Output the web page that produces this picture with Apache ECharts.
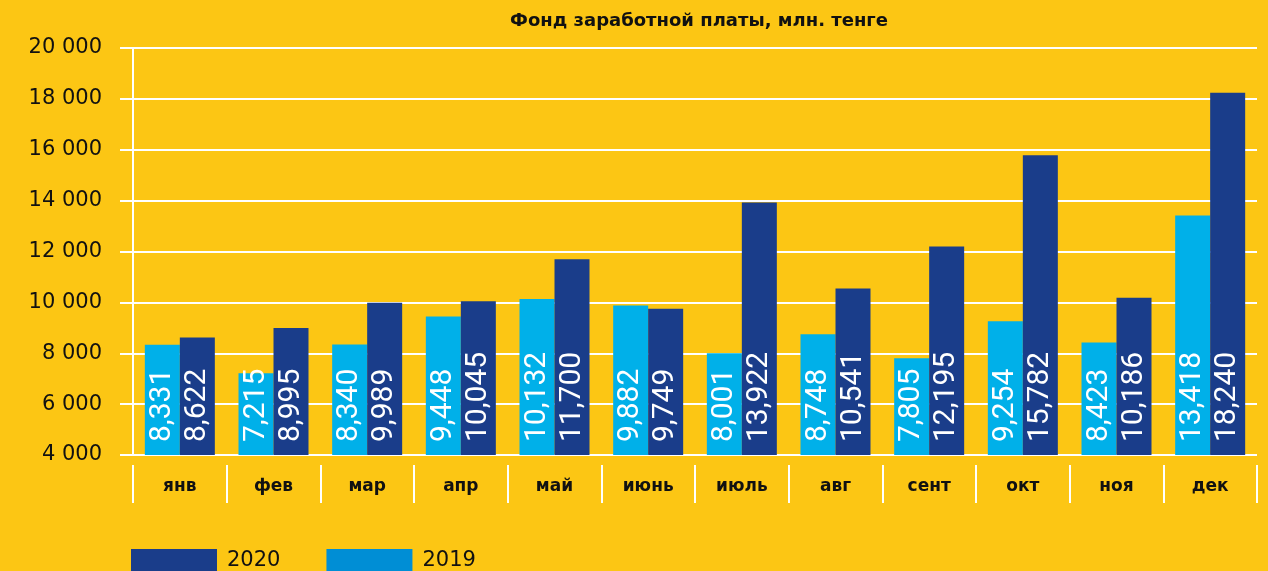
<!DOCTYPE html>
<html>
<head>
<meta charset="utf-8">
<script src="https://cdn.jsdelivr.net/npm/echarts@6/dist/echarts.min.js"></script>
<style>
  html, body { margin: 0; padding: 0; background: #FCC614; }
  #chart { width: 1268px; height: 571px; }
</style>
</head>
<body>
<div id="chart"></div>
<script>
var months = ['янв', 'фев', 'мар', 'апр', 'май', 'июнь', 'июль', 'авг', 'сент', 'окт', 'ноя', 'дек'];
var values2019 = [8331, 7215, 8340, 9448, 10132, 9882, 8001, 8748, 7805, 9254, 8423, 13418];
var values2020 = [8622, 8995, 9989, 10045, 11700, 9749, 13922, 10541, 12195, 15782, 10186, 18240];
var legendNames = ['2020', '2019'];

var FONT = 'DejaVu Sans';

function spaced(v) {
    return String(v).replace(/\B(?=(\d{3})+(?!\d))/g, ' ');
}

var chart = echarts.init(document.getElementById('chart'), null, { renderer: 'canvas' });

// подписи внутри столбиков, повернутые вертикально
var barLabel = {
    show: true,
    rotate: 90,
    position: 'insideBottom',
    align: 'left',
    verticalAlign: 'middle',
    distance: 13,
    color: '#fff',
    fontFamily: 'Roboto',
    fontSize: 30,
    formatter: function (p) {
        return p.value.toLocaleString('en-US');
    }
};

var option = {
    backgroundColor: '#FCC614',
    animation: false,
    title: {
        text: 'Фонд заработной платы, млн. тенге',
        left: 694,
        textAlign: 'center',
        top: 7,
        textStyle: { fontFamily: FONT, fontSize: 18, fontWeight: 'bold', color: '#111' }
    },
    legend: {
        data: [
            { name: legendNames[0], itemStyle: { color: '#1A3D8A' } },
            { name: legendNames[1], itemStyle: { color: '#008ED5' } }
        ],
        left: 131,
        top: 549,
        padding: 0,
        itemWidth: 86,
        itemHeight: 24,
        itemGap: 46,
        icon: 'rect',
        textStyle: { fontFamily: FONT, fontSize: 21, color: '#111', padding: [0, 0, 0, 5] }
    },
    grid: { left: 133, right: 11, top: 48, bottom: 116 },
    xAxis: {
        type: 'category',
        data: months,
        offset: 10,
        axisLine: { show: false },
        axisTick: { show: true, length: 38, lineStyle: { color: '#fff', width: 2 } },
        axisLabel: { margin: 13, fontFamily: FONT, fontSize: 17, fontWeight: 'bold', color: '#111' }
    },
    yAxis: {
        type: 'value',
        min: 4000,
        max: 20000,
        interval: 2000,
        axisLine: { show: true, lineStyle: { color: '#fff', width: 2 } },
        axisTick: { show: true, length: 13, lineStyle: { color: '#fff', width: 2 } },
        splitLine: { show: true, lineStyle: { color: '#fff', width: 2 } },
        axisLabel: {
            margin: 31,
            fontFamily: FONT,
            fontSize: 21,
            color: '#111',
            formatter: spaced
        }
    },
    series: [
        {
            name: '2019',
            type: 'bar',
            data: values2019,
            barWidth: 35,
            barGap: '0%',
            itemStyle: { color: '#00B0E9' },
            label: barLabel
        },
        {
            name: '2020',
            type: 'bar',
            data: values2020,
            barWidth: 35,
            barGap: '0%',
            itemStyle: { color: '#1A3D8A' },
            label: barLabel
        }
    ]
};

chart.setOption(option);
</script>
</body>
</html>
